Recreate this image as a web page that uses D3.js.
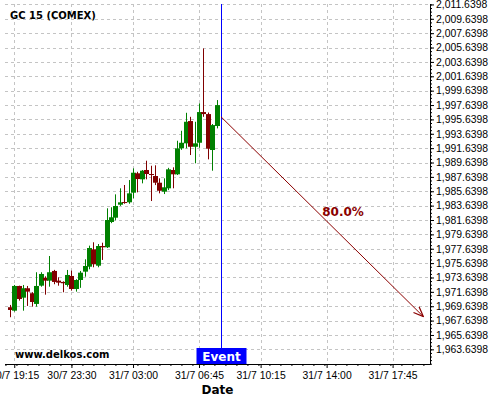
<!DOCTYPE html>
<html>
<head>
<meta charset="utf-8">
<script src="https://cdn.jsdelivr.net/npm/d3@7"></script>
<style>
  body { margin: 0; background: #fff; }
  svg { display: block; font-family: "DejaVu Sans", sans-serif; }
  .grid line { stroke: #c4c4c4; stroke-dasharray: 3,3; }
  .axis path, .axis line { stroke: #000; }
  .axis text { font-size: 10.4px; fill: #000; }
</style>
</head>
<body>
<svg class="chart" width="500" height="400"></svg>
<script>
// 15-min candles, index 0 = 30/7 19:00 (trading bars only)
var opens  = [1969.50, 1969.02, 1972.46, 1970.83, 1972.14, 1971.45, 1969.96, 1972.50, 1973.61, 1973.20,
              1974.55, 1973.20, 1973.02, 1972.60, 1973.85, 1972.04, 1973.29, 1974.45, 1975.14, 1977.56,
              1975.28, 1978.02, 1977.84, 1981.36, 1981.96, 1983.77, 1984.14, 1984.10, 1985.44, 1988.14,
              1987.30, 1988.60, 1988.04, 1987.76, 1986.83, 1985.58, 1986.05, 1988.60, 1988.00, 1991.61,
              1992.31, 1995.41, 1991.83, 1992.39, 1996.66, 1996.38, 1991.38, 1994.72];
var highs  = [1969.82, 1972.60, 1972.50, 1972.60, 1972.46, 1971.60, 1974.37, 1974.37, 1973.80, 1976.63,
              1974.70, 1973.67, 1973.10, 1974.69, 1974.60, 1973.40, 1974.55, 1976.17, 1978.07, 1978.54,
              1978.30, 1978.48, 1983.27, 1983.41, 1985.21, 1986.05, 1986.51, 1987.20, 1988.83, 1988.35,
              1988.60, 1989.89, 1989.19, 1989.25, 1987.44, 1987.44, 1988.90, 1988.97, 1992.67, 1994.06,
              1996.56, 1996.00, 1995.31, 1997.87, 2005.52, 1996.60, 1995.00, 1998.33];
var lows   = [1968.11, 1968.89, 1970.42, 1969.02, 1969.68, 1969.58, 1969.58, 1972.36, 1971.25, 1972.36,
              1972.70, 1972.50, 1971.58, 1972.36, 1971.81, 1971.67, 1972.20, 1973.75, 1974.78, 1975.06,
              1975.06, 1976.08, 1977.74, 1981.20, 1981.60, 1983.60, 1983.90, 1983.90, 1984.66, 1985.49,
              1986.74, 1987.30, 1984.28, 1986.50, 1985.35, 1985.25, 1985.80, 1986.05, 1987.90, 1991.40,
              1991.61, 1990.68, 1989.53, 1991.69, 1996.00, 1990.08, 1988.50, 1994.39];
var closes = [1969.12, 1972.46, 1970.65, 1972.14, 1971.67, 1970.23, 1972.46, 1974.13, 1973.20, 1974.37,
              1973.02, 1972.92, 1972.84, 1973.99, 1972.04, 1973.29, 1974.31, 1975.24, 1977.74, 1975.48,
              1978.02, 1977.84, 1981.64, 1982.02, 1983.59, 1984.10, 1984.05, 1985.35, 1988.22, 1987.34,
              1988.50, 1988.04, 1987.94, 1986.83, 1985.71, 1986.19, 1988.69, 1988.00, 1991.61, 1992.39,
              1995.31, 1991.83, 1992.31, 1996.66, 1996.38, 1991.56, 1994.85, 1997.63];

var tickLabels = ["30/7 19:15", "30/7 23:30", "31/7 03:00", "31/7 06:45", "31/7 10:15", "31/7 14:00", "31/7 17:45"];
var tickIndex  = [1, 14, 28, 43, 57, 72, 87];

var yTickValues = d3.range(1963.6398, 2012, 2);

var eventIndex = 48;
var arrowFrom = [48, 1996.0];
var arrowTo   = [94, 1968.19];
var arrowText = "80.0%";

var plotL = 5, plotR = 430, plotT = 4, plotB = 364;

var svg = d3.select(".chart");

var x = d3.scaleLinear().domain([-1.1, 95.5]).range([plotL, plotR]);
var y = d3.scaleLinear().domain([1961.6, 2011.7]).range([plotB, plotT]);

// grid
svg.append("g")
    .attr("class", "grid")
    .selectAll("line.v")
    .data(tickIndex)
  .enter().append("line")
    .attr("x1", function(d) { return Math.round(x(d)) + 0.5; })
    .attr("x2", function(d) { return Math.round(x(d)) + 0.5; })
    .attr("y1", plotT)
    .attr("y2", plotB);

svg.append("g")
    .attr("class", "grid")
    .selectAll("line.h")
    .data(yTickValues)
  .enter().append("line")
    .attr("x1", plotL)
    .attr("x2", plotR)
    .attr("y1", function(d) { return Math.round(y(d)) + 0.5; })
    .attr("y2", function(d) { return Math.round(y(d)) + 0.5; });

// candles
var candles = svg.append("g").selectAll(".candle")
    .data(opens.map(function(o, i) { return { i: i, o: o, h: highs[i], l: lows[i], c: closes[i] }; }))
  .enter().append("g")
    .attr("class", "candle");

candles.append("line")
    .attr("x1", function(d) { return Math.round(x(d.i)) + 0.5; })
    .attr("x2", function(d) { return Math.round(x(d.i)) + 0.5; })
    .attr("y1", function(d) { return y(d.h); })
    .attr("y2", function(d) { return y(d.l); })
    .attr("stroke", function(d) { return d.c >= d.o ? "#008000" : "#800000"; });

candles.append("rect")
    .attr("x", function(d) { return Math.round(x(d.i)) - 2; })
    .attr("width", 5)
    .attr("y", function(d) { return y(Math.max(d.o, d.c)); })
    .attr("height", function(d) { return Math.max(1, Math.abs(y(d.o) - y(d.c))); })
    .attr("fill", function(d) { return d.c >= d.o ? "#008000" : "#800000"; });

// event line
svg.append("line")
    .attr("x1", Math.round(x(eventIndex)) + 0.5)
    .attr("x2", Math.round(x(eventIndex)) + 0.5)
    .attr("y1", plotT)
    .attr("y2", plotB)
    .attr("stroke", "#0000ff");

// arrow
svg.append("defs").append("marker")
    .attr("id", "head")
    .attr("viewBox", "0 0 10 10")
    .attr("refX", 10).attr("refY", 5)
    .attr("markerWidth", 10).attr("markerHeight", 10)
    .attr("markerUnits", "userSpaceOnUse")
    .attr("orient", "auto")
  .append("path")
    .attr("d", "M0,1 L10,5 L0,9")
    .attr("fill", "none")
    .attr("stroke", "#8b0000")
    .attr("stroke-width", 1.2);

svg.append("line")
    .attr("x1", x(arrowFrom[0]))
    .attr("y1", y(arrowFrom[1]))
    .attr("x2", x(arrowTo[0]))
    .attr("y2", y(arrowTo[1]))
    .attr("stroke", "#8b0000")
    .attr("marker-end", "url(#head)");

svg.append("text")
    .attr("x", (x(arrowFrom[0]) + x(arrowTo[0])) / 2)
    .attr("y", (y(arrowFrom[1]) + y(arrowTo[1])) / 2 - 1)
    .attr("fill", "#8b0000")
    .style("font-size", "12px")
    .style("font-weight", "bold")
    .text(arrowText);

// axes
var yAxis = d3.axisRight(y)
    .tickValues(yTickValues)
    .tickSize(4)
    .tickPadding(2)
    .tickFormat(d3.format(",.4f"));

svg.append("g")
    .attr("class", "y axis")
    .attr("transform", "translate(" + plotR + ",0)")
    .call(yAxis)
    .call(function(g) { g.select(".domain").attr("d", "M0.5," + plotT + "V" + (plotB + 0.5)); });

svg.append("g")
    .attr("class", "y axis minor")
    .attr("transform", "translate(" + plotR + ",0)")
    .call(d3.axisRight(y).tickValues(d3.range(1961.6398, 2011.7, 0.5)).tickSize(2).tickFormat(""))
    .call(function(g) { g.select(".domain").remove(); });

var xAxis = d3.axisBottom(x)
    .tickValues(tickIndex)
    .tickSize(4)
    .tickPadding(4)
    .tickFormat(function(d, i) { return tickLabels[i]; });

svg.append("g")
    .attr("class", "x axis")
    .attr("transform", "translate(0," + plotB + ")")
    .call(xAxis)
    .call(function(g) { g.select(".domain").attr("d", "M" + plotL + ",0.5H" + (plotR + 0.5)); });

svg.append("g")
    .attr("class", "x axis minor")
    .attr("transform", "translate(0," + plotB + ")")
    .call(d3.axisBottom(x).tickValues(d3.range(-1, 95.5, 2.5)).tickSize(2).tickFormat(""))
    .call(function(g) { g.select(".domain").remove(); });

svg.append("text")
    .attr("x", (plotL + plotR) / 2)
    .attr("y", 394)
    .style("text-anchor", "middle")
    .style("font-size", "12px")
    .style("font-weight", "bold")
    .text("Date");

// event tag
var ex = Math.round(x(eventIndex)) + 0.5;
svg.append("rect")
    .attr("x", ex - 25)
    .attr("y", 348)
    .attr("width", 50)
    .attr("height", 16)
    .attr("fill", "#0000ff");

svg.append("text")
    .attr("x", ex)
    .attr("y", 361)
    .style("text-anchor", "middle")
    .style("font-size", "12px")
    .style("font-weight", "bold")
    .attr("fill", "#fff")
    .text("Event");

// title and watermark
svg.append("text")
    .attr("x", 10)
    .attr("y", 19)
    .style("font-size", "10px")
    .style("font-weight", "bold")
    .text("GC 15 (COMEX)");

svg.append("text")
    .attr("x", 15)
    .attr("y", 358)
    .style("font-size", "10px")
    .style("font-weight", "bold")
    .text("www.delkos.com");
</script>
</body>
</html>
